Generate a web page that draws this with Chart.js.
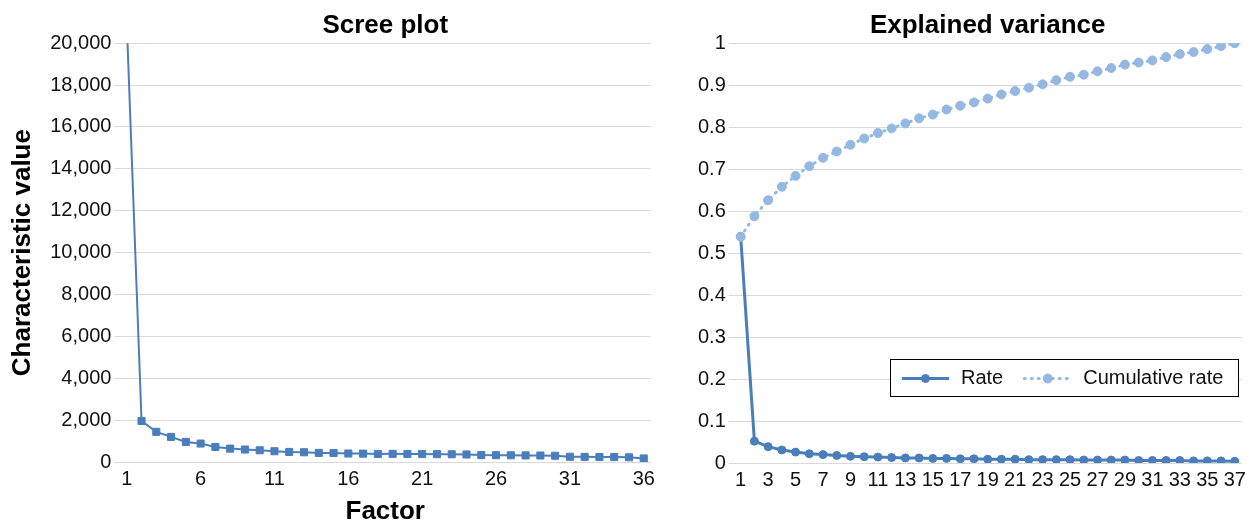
<!DOCTYPE html>
<html>
<head>
<meta charset="utf-8">
<script src="https://cdn.jsdelivr.net/npm/chart.js@4"></script>
<style>
    html, body { margin: 0; padding: 0; background: #fff; }
    #wrap { position: relative; width: 1251px; height: 525px; }
    #screeBox { position: absolute; left: 0; top: 0; }
    #varBox { position: absolute; left: 660px; top: 0; }
</style>
</head>
<body>
<div id="wrap">
    <div id="screeBox"><canvas id="screeChart" width="660" height="525"></canvas></div>
    <div id="varBox"><canvas id="varianceChart" width="591" height="525"></canvas></div>
</div>
<script>
// Scree plot data
const factors = ["1","2","3","4","5","6","7","8","9","10","11","12","13","14","15","16","17","18",
    "19","20","21","22","23","24","25","26","27","28","29","30","31","32","33","34","35","36"];
const characteristicValues = [21000, 1960, 1440, 1200, 960, 880, 720, 640, 595, 560, 515, 480,
    465, 435, 430, 405, 400, 385, 390, 385, 380, 375, 370, 360, 330, 325, 320, 315, 310, 300,
    250, 245, 240, 235, 225, 170];
const screeTicks = ["1", "6", "11", "16", "21", "26", "31", "36"];

// Explained variance data
const components = ["1","2","3","4","5","6","7","8","9","10","11","12","13","14","15","16","17","18",
    "19","20","21","22","23","24","25","26","27","28","29","30","31","32","33","34","35","36","37"];
const rate = [0.54, 0.052, 0.039, 0.031, 0.026, 0.022, 0.020, 0.018, 0.016, 0.015, 0.014, 0.013,
    0.012, 0.012, 0.011, 0.011, 0.010, 0.010, 0.009, 0.009, 0.009, 0.008, 0.008, 0.008, 0.008,
    0.007, 0.007, 0.007, 0.007, 0.006, 0.006, 0.006, 0.006, 0.005, 0.005, 0.005, 0.004];
const cumulativeRate = [0.539, 0.588, 0.626, 0.658, 0.684, 0.707, 0.727, 0.742, 0.758, 0.773,
    0.786, 0.797, 0.809, 0.821, 0.830, 0.842, 0.851, 0.859, 0.868, 0.878, 0.886, 0.894, 0.902,
    0.912, 0.920, 0.925, 0.933, 0.941, 0.949, 0.954, 0.959, 0.967, 0.974, 0.979, 0.986, 0.993, 1.0];
const varianceTicks = ["1","3","5","7","9","11","13","15","17","19","21","23","25","27","29","31","33","35","37"];

const FONT = "'Liberation Sans', Arial, sans-serif";
const DARK_BLUE = '#4a7ebb';
const LIGHT_BLUE = '#95b8e3';
const GRID = '#d9d9d9';

Chart.defaults.font.family = FONT;
Chart.defaults.color = '#111';

// legend drawn as a boxed row: line sample + marker + label
const boxLegend = {
    id: 'boxLegend',
    afterDraw(chart, args, opts) {
        if (!opts.show) return;
        const { ctx, chartArea } = chart;
        const items = chart.data.datasets;
        ctx.save();
        ctx.font = '20px ' + FONT;
        const sample = 47, gapText = 12, gapItem = 21, padL = 12, padR = 15, h = 37;
        let w = padL + padR;
        items.forEach((d, k) => {
            w += sample + gapText + ctx.measureText(d.label).width + (k ? gapItem : 0);
        });
        const right = chartArea.right - 3;
        const bottom = chartArea.bottom - 67;
        const left = Math.round(right - w), top = Math.round(bottom - h);
        ctx.fillStyle = '#fff';
        ctx.fillRect(left, top, w, h);
        ctx.strokeStyle = '#000';
        ctx.lineWidth = 1;
        ctx.strokeRect(left + 0.5, top + 0.5, Math.round(w), h);

        let x = left + padL;
        const y = top + h / 2 + 1;
        items.forEach((d, k) => {
            if (k) x += gapItem;
            ctx.save();
            ctx.strokeStyle = d.borderColor;
            ctx.lineWidth = d.borderWidth;
            ctx.lineCap = d.borderCapStyle || 'butt';
            ctx.setLineDash(d.borderDash || []);
            ctx.beginPath();
            ctx.moveTo(x, y);
            ctx.lineTo(x + sample, y);
            ctx.stroke();
            ctx.restore();
            ctx.fillStyle = d.pointBackgroundColor;
            ctx.strokeStyle = d.pointBorderColor;
            ctx.lineWidth = 1;
            Chart.helpers.drawPoint(ctx, { pointStyle: 'circle', radius: d.pointRadius, borderWidth: 1 }, x + sample / 2, y);
            ctx.fillStyle = '#111';
            ctx.textBaseline = 'middle';
            ctx.textAlign = 'left';
            ctx.fillText(d.label, x + sample + gapText, y);
            x += sample + gapText + ctx.measureText(d.label).width;
        });
        ctx.restore();
    }
};

function titleAxis(text) {
    return {
        type: 'category',
        position: 'top',
        offset: true,
        grid: { display: false, drawTicks: false },
        border: { display: false },
        ticks: { display: false },
        title: {
            display: true, text: text, color: '#000',
            font: { size: 26, weight: 'bold' },
            padding: { top: 10, bottom: 2 }
        }
    };
}

// Scree plot
const screeChart = new Chart(document.getElementById('screeChart'), {
    type: 'line',
    data: {
        labels: factors,
        datasets: [{
            label: 'Characteristic value',
            data: characteristicValues,
            xAxisID: 'x',
            borderColor: DARK_BLUE,
            borderWidth: 2,
            pointStyle: 'rect',
            pointRadius: 5,
            pointBorderWidth: 1,
            pointBackgroundColor: DARK_BLUE,
            pointBorderColor: DARK_BLUE,
            tension: 0
        }]
    },
    options: {
        responsive: false,
        animation: false,
        devicePixelRatio: 1,
        layout: { padding: { left: 0, right: 0, top: 0, bottom: 0 } },
        plugins: { legend: { display: false }, tooltip: { enabled: false } },
        scales: {
            x: {
                offset: true,
                grid: { display: false, drawTicks: false },
                border: { display: false },
                ticks: {
                    autoSkip: false, maxRotation: 0, padding: 5,
                    font: { size: 20 },
                    callback(v) {
                        const l = this.getLabelForValue(v);
                        return screeTicks.includes(l) ? l : '';
                    }
                },
                title: {
                    display: true, text: 'Factor', color: '#000',
                    font: { size: 26, weight: 'bold', lineHeight: 1.0 },
                    padding: { top: 3, bottom: 0 }
                }
            },
            top: titleAxis('Scree plot'),
            y: {
                min: 0,
                max: 20000,
                grid: { color: GRID, tickLength: 5 },
                border: { display: false },
                ticks: {
                    stepSize: 2000, padding: 3,
                    font: { size: 20 },
                    callback: v => v.toLocaleString('en-US')
                },
                title: {
                    display: true, text: 'Characteristic value', color: '#000',
                    font: { size: 26, weight: 'bold' },
                    padding: { top: 7, bottom: 9 }
                }
            }
        }
    }
});

// Explained variance
const varianceChart = new Chart(document.getElementById('varianceChart'), {
    type: 'line',
    data: {
        labels: components,
        datasets: [{
            label: 'Rate',
            data: rate,
            xAxisID: 'x',
            order: 1,
            borderColor: DARK_BLUE,
            borderWidth: 3,
            pointRadius: 4,
            pointBorderWidth: 1,
            pointBackgroundColor: DARK_BLUE,
            pointBorderColor: DARK_BLUE,
            tension: 0
        }, {
            label: 'Cumulative rate',
            data: cumulativeRate,
            xAxisID: 'x',
            order: 0,
            borderColor: LIGHT_BLUE,
            borderWidth: 3,
            borderDash: [1, 6],
            borderCapStyle: 'round',
            pointRadius: 4.5,
            pointBorderWidth: 1,
            pointBackgroundColor: LIGHT_BLUE,
            pointBorderColor: LIGHT_BLUE,
            tension: 0
        }]
    },
    options: {
        responsive: false,
        animation: false,
        devicePixelRatio: 1,
        layout: { padding: { left: 35, right: 0, top: 0, bottom: 28 } },
        plugins: {
            legend: { display: false },
            tooltip: { enabled: false },
            boxLegend: { show: true }
        },
        scales: {
            x: {
                offset: true,
                grid: { display: false, drawTicks: false },
                border: { display: false },
                ticks: {
                    autoSkip: false, maxRotation: 0, padding: 5,
                    font: { size: 20 },
                    callback(v) {
                        const l = this.getLabelForValue(v);
                        return varianceTicks.includes(l) ? l : '';
                    }
                }
            },
            top: titleAxis('Explained variance'),
            y: {
                min: 0,
                max: 1,
                grid: { color: GRID, tickLength: 5 },
                border: { display: false },
                ticks: {
                    stepSize: 0.1, padding: 3,
                    font: { size: 20 },
                    callback: v => String(+v.toFixed(1))
                }
            }
        }
    },
    plugins: [boxLegend]
});
</script>
</body>
</html>
